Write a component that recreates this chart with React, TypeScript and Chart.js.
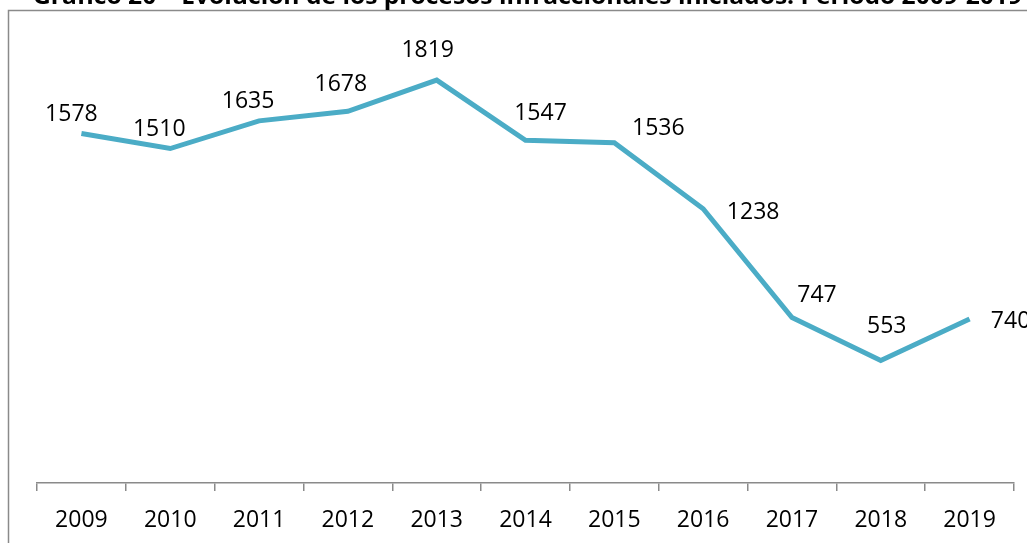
import React, { useEffect, useRef } from "react";
import { Chart, registerables } from "chart.js";

Chart.register(...registerables);

const TITLE = "Gráfico 20 – Evolución de los procesos infraccionales iniciados. Período 2009-2019";
const years = ["2009", "2010", "2011", "2012", "2013", "2014", "2015", "2016", "2017", "2018", "2019"];
const procesos = [1578, 1510, 1635, 1678, 1819, 1547, 1536, 1238, 747, 553, 740];
// label placement offsets (dx, dy) relative to each point, in px
const labelDx = [-10, -11, -11, -7, -9, 15, 44, 50, 25, 6, 41];
const labelDy = [-21, -21, -21, -29, -31, -29, -16, 2, -24, -36, 1];

const FONT = "'Open Sans', 'DejaVu Sans', sans-serif";

const framePlugin = {
  id: "frame",
  beforeDraw(chart: any) {
    const ctx = chart.ctx;
    ctx.save();
    ctx.fillStyle = "#ffffff";
    ctx.fillRect(0, 0, chart.width, chart.height);
    ctx.strokeStyle = "#8a8a8a";
    ctx.lineWidth = 1.5;
    ctx.strokeRect(8.5, 10.5, chart.width + 20, chart.height + 20);
    ctx.fillStyle = "#000000";
    ctx.font = `bold 24px ${FONT}`;
    ctx.textAlign = "left";
    ctx.textBaseline = "alphabetic";
    const w = ctx.measureText(TITLE).width;
    const sx = 989 / w;
    ctx.translate(33, 4);
    ctx.scale(sx, 1);
    ctx.fillText(TITLE, 0, 0);
    ctx.restore();
  },
};

const labelPlugin = {
  id: "pointLabels",
  afterDatasetsDraw(chart: any) {
    const ctx = chart.ctx;
    const meta = chart.getDatasetMeta(0);
    ctx.save();
    ctx.fillStyle = "#000000";
    ctx.font = `23px ${FONT}`;
    ctx.textAlign = "center";
    ctx.textBaseline = "alphabetic";
    meta.data.forEach((pt: any, i: number) => {
      const cx = pt.x + labelDx[i];
      const cy = pt.y + labelDy[i];
      ctx.fillText(String(procesos[i]), cx, cy + 8.2);
    });
    ctx.restore();
  },
};

export default function App() {
  const ref = useRef<HTMLCanvasElement>(null);
  useEffect(() => {
    if (!ref.current) return;
    const chart = new Chart(ref.current, {
      type: "line",
      data: {
        labels: years,
        datasets: [
          {
            data: procesos,
            borderColor: "#4BACC6",
            borderWidth: 5,
            pointRadius: 0,
            tension: 0,
            fill: false,
          },
        ],
      },
      options: {
        responsive: false,
        animation: false,
        layout: { padding: { left: 37, right: 13, top: 40, bottom: 0 } },
        plugins: {
          legend: { display: false },
          title: { display: false },
          tooltip: { enabled: false },
        },
        scales: {
          x: {
            type: "category",
            offset: true,
            grid: {
              display: true,
              drawOnChartArea: false,
              drawTicks: true,
              tickLength: 8,
              offset: true,
              color: "#8a8a8a",
              lineWidth: 1.5,
            },
            border: { display: true, color: "#8a8a8a", width: 1.5 },
            ticks: {
              color: "#000000",
              font: { family: FONT, size: 23 },
              padding: 16,
              maxRotation: 0,
              autoSkip: false,
            },
            afterFit(scale: any) {
              scale.height = 60;
            },
          },
          y: {
            display: false,
            min: 0,
            max: 2000,
          },
        },
      },
      plugins: [framePlugin, labelPlugin],
    });
    return () => chart.destroy();
  }, []);
  return (
    <div style={{ position: "absolute", left: 0, top: 0, width: 1027, height: 543 }}>
      <canvas ref={ref} width={1027} height={543} style={{ display: "block" }} />
    </div>
  );
}
